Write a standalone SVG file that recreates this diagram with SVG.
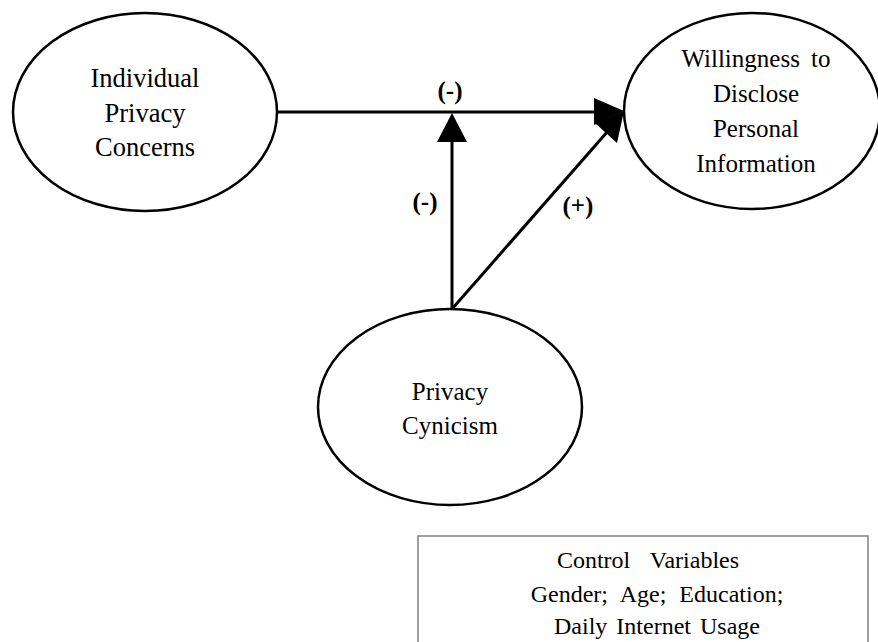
<svg xmlns="http://www.w3.org/2000/svg" width="878" height="642" viewBox="0 0 878 642">
<style>
.node{fill:#fff;stroke:#000;stroke-width:2.5}
.t{font-family:'Liberation Serif','DejaVu Serif',serif;font-size:25px;fill:#000;text-anchor:middle}
.big{font-size:26.5px}
.box{font-size:24px}
.lbl{font-family:'Liberation Serif','DejaVu Serif',serif;font-size:25px;font-weight:bold;fill:#000;text-anchor:middle}
.edge{stroke:#000;stroke-width:3;fill:none}
.head{fill:#000;stroke:none}
</style>
<rect width="878" height="642" fill="#fff"/>
<g id="connectors">
<line class="edge" x1="277" y1="112" x2="600" y2="112"/>
<line class="edge" x1="452" y1="309" x2="452" y2="138"/>
<line class="edge" x1="452" y1="309" x2="608" y2="131"/>
<polygon class="head" points="452,113 437,142 467,142"/>
<polygon class="head" points="624,111 594,98 594,125"/>
<polygon class="head" points="624,111 595,123 617,143"/>
<text class="lbl" x="450" y="99">(-)</text>
<text class="lbl" x="425" y="210">(-)</text>
<text class="lbl" x="578" y="214">(+)</text>
</g>
<g id="node-concerns">
<ellipse class="node" cx="145" cy="112" rx="132" ry="99"/>
<text class="t big" x="145" y="87">Individual</text>
<text class="t big" x="145" y="122">Privacy</text>
<text class="t big" x="145" y="156">Concerns</text>
</g>
<g id="node-willingness">
<ellipse class="node" cx="752" cy="111" rx="128" ry="98"/>
<text class="t" x="756" y="67" word-spacing="5">Willingness to</text>
<text class="t" x="756" y="102">Disclose</text>
<text class="t" x="756" y="137">Personal</text>
<text class="t" x="756" y="172">Information</text>
</g>
<g id="node-cynicism">
<ellipse class="node" cx="450" cy="407" rx="132" ry="98"/>
<text class="t" x="450" y="400">Privacy</text>
<text class="t" x="450" y="434">Cynicism</text>
</g>
<g id="node-controls">
<rect x="418" y="536" width="450" height="120" fill="#fff" stroke="#808080" stroke-width="1.5"/>
<text class="t box" x="648" y="568" word-spacing="14">Control Variables</text>
<text class="t box" x="657" y="602" word-spacing="7">Gender; Age; Education;</text>
<text class="t box" x="657" y="634" word-spacing="3">Daily Internet Usage</text>
</g>
</svg>
